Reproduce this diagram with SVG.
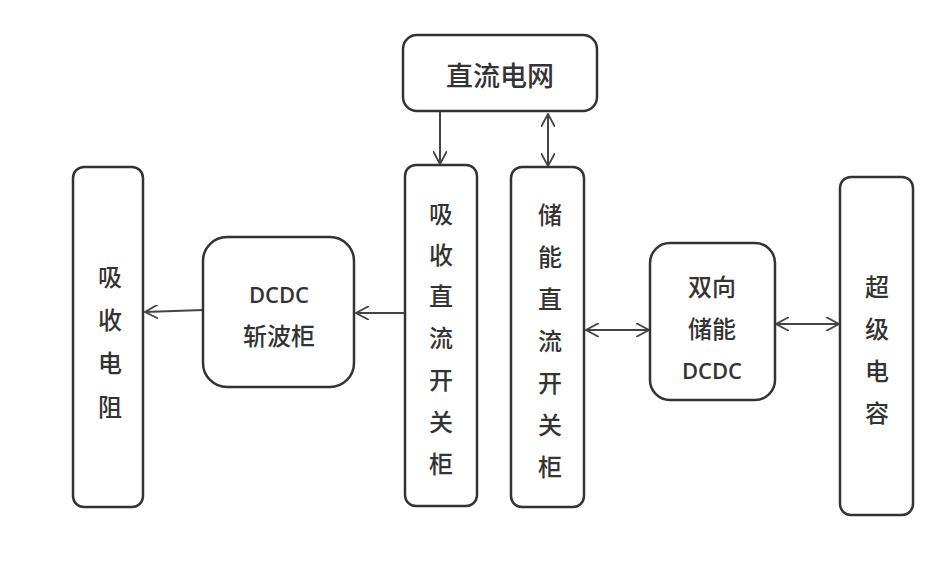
<svg xmlns="http://www.w3.org/2000/svg" width="949" height="577" viewBox="0 0 949 577">
<style>
.box{fill:#fff;stroke:#333;stroke-width:2.5}
.t{font-family:"Noto Sans CJK SC","Noto Sans",sans-serif;font-size:24px;font-weight:500;fill:#333;text-anchor:middle;dominant-baseline:central}
.d{font-family:"Open Sans","Noto Sans",sans-serif;font-size:22px;font-weight:600;fill:#333;text-anchor:middle;dominant-baseline:central}
.c{stroke:#444;stroke-width:2;fill:none}
</style>
<defs>
<marker id="ah" viewBox="0 0 14 14" refX="13" refY="7" markerWidth="14" markerHeight="14" markerUnits="userSpaceOnUse" orient="auto-start-reverse">
<path d="M0,0 L13,7 L0,14" fill="none" stroke="#444" stroke-width="1.8"/>
</marker>
</defs>
<rect width="949" height="577" fill="#fff"/>
<g id="connectors">
<line class="c" x1="440" y1="112" x2="440" y2="164" marker-end="url(#ah)"/>
<line class="c" x1="548" y1="114" x2="548" y2="166" marker-start="url(#ah)" marker-end="url(#ah)"/>
<line class="c" x1="405" y1="313" x2="356" y2="313" marker-end="url(#ah)"/>
<line class="c" x1="203" y1="310" x2="145" y2="312" marker-end="url(#ah)"/>
<line class="c" x1="586" y1="330" x2="649" y2="330" marker-start="url(#ah)" marker-end="url(#ah)"/>
<line class="c" x1="776" y1="324" x2="839" y2="324" marker-start="url(#ah)" marker-end="url(#ah)"/>
</g>
<g id="grid">
<rect class="box" x="403" y="35" width="194" height="76" rx="14"/>
<text class="t" x="500" y="74" style="font-size:27px">直流电网</text>
</g>
<g id="absorb-switch">
<rect class="box" x="405" y="165" width="72" height="341" rx="11"/>
<text class="t" x="441" y="212">吸</text>
<text class="t" x="441" y="253">收</text>
<text class="t" x="441" y="294">直</text>
<text class="t" x="441" y="336">流</text>
<text class="t" x="441" y="378">开</text>
<text class="t" x="441" y="420">关</text>
<text class="t" x="441" y="462">柜</text>
</g>
<g id="storage-switch">
<rect class="box" x="511" y="167" width="73" height="340" rx="11"/>
<text class="t" x="550" y="213">储</text>
<text class="t" x="550" y="255">能</text>
<text class="t" x="550" y="297">直</text>
<text class="t" x="550" y="339">流</text>
<text class="t" x="550" y="381">开</text>
<text class="t" x="550" y="423">关</text>
<text class="t" x="550" y="465">柜</text>
</g>
<g id="resistor">
<rect class="box" x="73" y="167" width="70" height="340" rx="11"/>
<text class="t" x="110" y="275">吸</text>
<text class="t" x="110" y="318">收</text>
<text class="t" x="110" y="361">电</text>
<text class="t" x="110" y="405">阻</text>
</g>
<g id="chopper">
<rect class="box" x="203" y="237" width="151" height="150" rx="24"/>
<text class="d" x="279" y="294">DCDC</text>
<text class="t" x="279" y="334">斩波柜</text>
</g>
<g id="bidirectional">
<rect class="box" x="650" y="243" width="125" height="157" rx="20"/>
<text class="t" x="712" y="285">双向</text>
<text class="t" x="712" y="327">储能</text>
<text class="d" x="712" y="370">DCDC</text>
</g>
<g id="supercap">
<rect class="box" x="840" y="177" width="73" height="338" rx="11"/>
<text class="t" x="877" y="285">超</text>
<text class="t" x="877" y="327">级</text>
<text class="t" x="877" y="369">电</text>
<text class="t" x="877" y="411">容</text>
</g>
</svg>
